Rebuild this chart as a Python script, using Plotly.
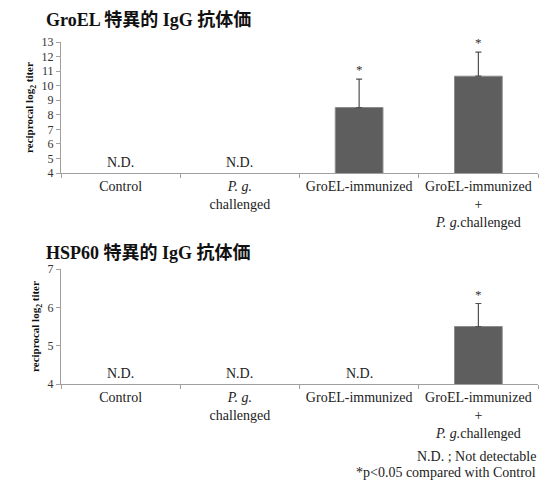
import plotly.graph_objects as go

categories = ["Control", "P. g. challenged", "GroEL-immunized", "GroEL-immunized + P. g. challenged"]
tick_labels = ["Control", "<i>P. g.</i><br>challenged", "GroEL-immunized",
               "GroEL-immunized<br>+<br><i>P. g.</i>challenged"]

groel_values = [None, None, 8.5, 10.65]
groel_errors = [0, 0, 1.95, 1.65]
groel_sig = [False, False, True, True]

hsp60_values = [None, None, None, 5.5]
hsp60_errors = [0, 0, 0, 0.6]
hsp60_sig = [False, False, False, True]

title_top = "<b>GroEL 特異的 IgG 抗体価</b>"
title_bottom = "<b>HSP60 特異的 IgG 抗体価</b>"
ytitle = "<b>reciprocal log<sub>2</sub> titer</b>"
footnotes = ["N.D. ; Not detectable", "*p<0.05 compared with Control"]

SERIF = "Liberation Serif, DejaVu Serif, Noto Sans CJK JP, serif"
TITLE_FONT = "Liberation Serif, Noto Sans CJK JP, serif"

W, H = 540, 481
fig = go.Figure()

panels = [
    dict(vals=groel_values, errs=groel_errors, sig=groel_sig, xa="x", ya="y",
         ydom=[1 - 173 / H, 1 - 42 / H], yr=[4, 13], title=title_top, ty=1 - 20 / H),
    dict(vals=hsp60_values, errs=hsp60_errors, sig=hsp60_sig, xa="x2", ya="y2",
         ydom=[1 - 384 / H, 1 - 269 / H], yr=[4, 7], title=title_bottom, ty=1 - 253 / H),
]

annotations = []
for i, p in enumerate(panels):
    fig.add_trace(go.Bar(
        x=categories, y=p["vals"],
        xaxis=p["xa"], yaxis=p["ya"], width=0.4,
        marker=dict(color="#5e5e5e", line=dict(color="#8c8c8c", width=1)),
        error_y=dict(type="data", array=p["errs"], arrayminus=[0] * 4, symmetric=False,
                     color="#505050", thickness=1.2, width=3),
        showlegend=False, hoverinfo="skip",
    ))
    for c, v, e, s in zip(categories, p["vals"], p["errs"], p["sig"]):
        if v is None:
            annotations.append(dict(x=c, y=p["yr"][0], xref=p["xa"], yref=p["ya"],
                                    text="N.D.", showarrow=False, yanchor="bottom", yshift=1,
                                    font=dict(family=SERIF, size=14, color="#222")))
        if s:
            annotations.append(dict(x=c, y=v + e, xref=p["xa"], yref=p["ya"],
                                    text="*", showarrow=False, yanchor="bottom", yshift=0,
                                    font=dict(family=SERIF, size=13, color="#333")))
    annotations.append(dict(x=44 / W, y=p["ty"], xref="paper", yref="paper", text=p["title"],
                            showarrow=False, xanchor="left", yanchor="middle",
                            font=dict(family=TITLE_FONT, size=18, color="#111")))

annotations.append(dict(x=537 / W, y=1 - 456 / H, xref="paper", yref="paper", text=footnotes[0],
                        showarrow=False, xanchor="right", yanchor="middle", borderpad=0,
                        font=dict(family=SERIF, size=14, color="#222")))
annotations.append(dict(x=537 / W, y=1 - 472 / H, xref="paper", yref="paper", text=footnotes[1],
                        showarrow=False, xanchor="right", yanchor="middle", borderpad=0,
                        font=dict(family=SERIF, size=14, color="#222")))

xcommon = dict(domain=[61 / W, 538 / W], type="category", range=[-0.5, 3.5],
               tickmode="array", tickvals=categories, ticktext=tick_labels,
               ticks="outside", ticklen=4, tickcolor="#a0a0a0", tickson="boundaries",
               showline=True, linecolor="#a0a0a0", linewidth=1, showgrid=False,
               tickfont=dict(family=SERIF, size=14, color="#222"), zeroline=False,
               automargin=False)
ycommon = dict(dtick=1, ticks="outside", ticklen=4, tickcolor="#a0a0a0",
               showline=True, linecolor="#a0a0a0", linewidth=1, showgrid=False, zeroline=False,
               tickfont=dict(family=SERIF, size=12, color="#333"), automargin=True,
               title=dict(text=ytitle, font=dict(family=SERIF, size=11, color="#111"), standoff=5))

fig.update_layout(
    width=W, height=H, margin=dict(l=0, r=0, t=0, b=0, autoexpand=False),
    paper_bgcolor="white", plot_bgcolor="white",
    xaxis=dict(**xcommon, anchor="y"),
    yaxis=dict(**ycommon, domain=panels[0]["ydom"], range=panels[0]["yr"], anchor="x"),
    xaxis2=dict(**xcommon, anchor="y2"),
    yaxis2=dict(**ycommon, domain=panels[1]["ydom"], range=panels[1]["yr"], anchor="x2"),
    annotations=annotations, bargap=0.6,
)

fig.write_html("out.html", config={"displayModeBar": False},
               post_script="document.body.style.margin='0';document.body.style.overflow='hidden';")
